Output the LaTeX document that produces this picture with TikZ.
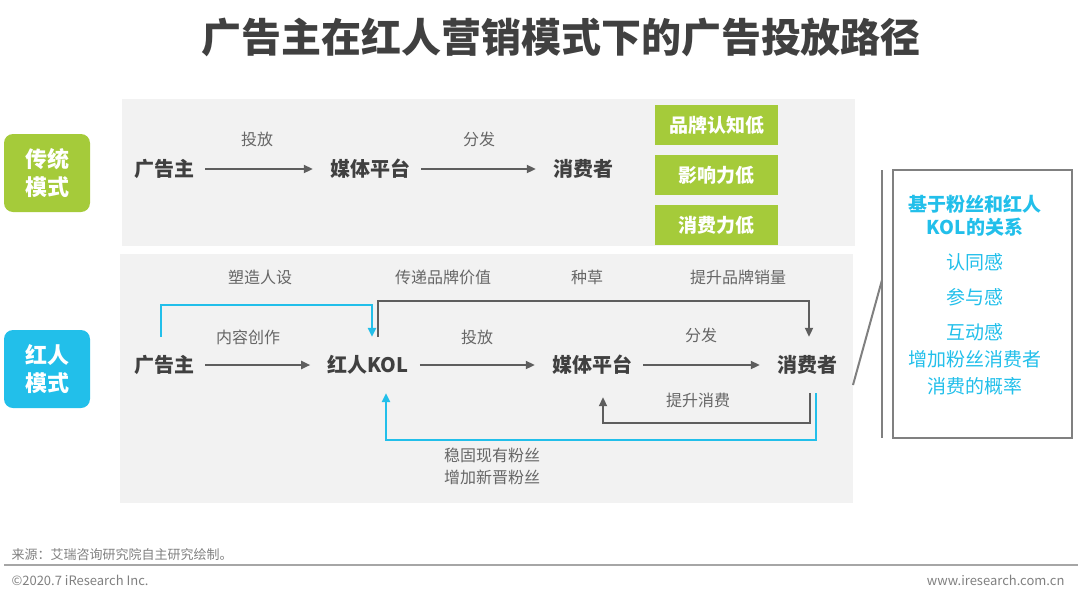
\documentclass[tikz,border=0pt]{standalone}
\usepackage{fontspec}
\setmainfont{Noto Sans CJK SC}
\usetikzlibrary{arrows.meta}

\definecolor{kolgreen}{HTML}{A5CB3A}
\definecolor{kolcyan}{HTML}{22BFEA}
\definecolor{panelgray}{HTML}{F2F2F2}
\definecolor{namegray}{HTML}{404040}
\definecolor{lblgray}{HTML}{666666}
\definecolor{arrgray}{HTML}{5E5E5E}
\definecolor{boxgray}{HTML}{808080}

\begin{document}
\begin{tikzpicture}[x=1pt, y=-1pt,
    title/.style={font=\bfseries\fontsize{40}{48}\selectfont, text=namegray},
    badge/.style={rounded corners=9pt, minimum width=86pt, minimum height=78pt, text=white, align=center, font=\bfseries\fontsize{22}{28}\selectfont},
    party/.style={font=\bfseries\fontsize{20}{24}\selectfont, text=namegray, inner xsep=11pt, minimum height=56pt},
    lbl/.style={font=\fontsize{16}{22}\selectfont, text=lblgray, align=center},
    tag/.style={fill=kolgreen, text=white, minimum width=123pt, minimum height=40pt, font=\bfseries\fontsize{19}{24}\selectfont},
    note/.style={text=kolcyan, font=\fontsize{19}{24}\selectfont},
    flow/.style={draw=arrgray, line width=2pt, -{Triangle[length=9pt,width=8pt]}},
    hop/.style={flow, shorten >=6pt},
    fan/.style={flow, draw=kolcyan, line width=2.5pt},
    foot/.style={text=boxgray, font=\fontsize{13}{16}\selectfont}]
  \useasboundingbox (0,0) rectangle (1080,600);

  \node[title] (ttl) at (561,37) {广告主在红人营销模式下的广告投放路径};

  % two panels
  \fill[panelgray] (122,99) rectangle (855,246);
  \fill[panelgray] (120,254) rectangle (853,503);
  \node[badge, fill=kolgreen] (mode1) at (47,173) {传统\\模式};
  \node[badge, fill=kolcyan] (mode2) at (47,369) {红人\\模式};

  % traditional path
  \node[party] (a1) at (164,169) {广告主};
  \node[party] (m1) at (370,169) {媒体平台};
  \node[party] (c1) at (583,169) {消费者};
  \draw[hop] (a1) -- (m1);
  \draw[hop] (m1) -- (c1);
  \node[lbl] (l1) at (257,139) {投放};
  \node[lbl] (l2) at (479,139) {分发};
  \foreach \t [count=\i] in {品牌认知低,影响力低,消费力低}
    \node[tag] (t\i) at (716.5,75+50*\i) {\t};

  % KOL path
  \node[party] (a2) at (164,365) {广告主};
  \node[party] (k2) at (368,365) {红人KOL};
  \node[party] (m2) at (592,365) {媒体平台};
  \node[party] (c2) at (807,365) {消费者};
  \draw[hop] (a2) -- (k2);
  \draw[hop] (k2) -- (m2);
  \draw[hop] (m2) -- (c2);
  \draw[fan] ([xshift=-3pt]a2.north) -- ++(0,-32) -| ([xshift=4pt]k2.north);
  \draw[flow] ([xshift=10pt]k2.north) -- ++(0,-36) -| ([xshift=2pt]c2.north);
  \draw[flow, shorten >=4pt] ([xshift=3pt]c2.south) -- ++(0,30) -| ([xshift=11pt]m2.south);
  \draw[fan] ([xshift=9pt]c2.south) -- ++(0,47) -| ([xshift=18pt]k2.south);
  \node[lbl] (p1) at (248,337) {内容创作};
  \node[lbl] (p2) at (477,337) {投放};
  \node[lbl] (p3) at (701,335) {分发};
  \node[lbl] (p4) at (260,277) {塑造人设};
  \node[lbl] (p5) at (443,277) {传递品牌价值};
  \node[lbl] (p6) at (587,277) {种草};
  \node[lbl] (p7) at (738,277) {提升品牌销量};
  \node[lbl] (p8) at (698,400) {提升消费};
  \node[lbl] (p9) at (492,466) {稳固现有粉丝\\增加新晋粉丝};

  % relation box
  \draw[boxgray, line width=2pt] (853,385) -- (882,280);
  \draw[boxgray, line width=2pt] (882,170) -- (882,438);
  \draw[boxgray, line width=2pt] (893,170) rectangle (1072,438);
  \node[note, font=\bfseries\fontsize{19}{23}\selectfont, align=center] (n0) at (975,216) {基于粉丝和红人\\KOL的关系};
  \foreach \t/\y [count=\i] in {认同感/262, 参与感/297, 互动感/332}
    \node[note] (n\i) at (975,\y) {\t};
  \node[note, align=center, font=\fontsize{19}{27}\selectfont] (n4) at (975,373) {增加粉丝消费者\\消费的概率};

  % footer
  \draw[boxgray!70, line width=2pt] (4,565) -- (1078,565);
  \node[foot, anchor=west] (src) at (8,555) {来源：艾瑞咨询研究院自主研究绘制。};
  \node[foot, anchor=west] (cpr) at (8,580) {©2020.7 iResearch Inc.};
  \node[foot, anchor=east] (url) at (1068,580) {www.iresearch.com.cn};
\end{tikzpicture}
\end{document}
